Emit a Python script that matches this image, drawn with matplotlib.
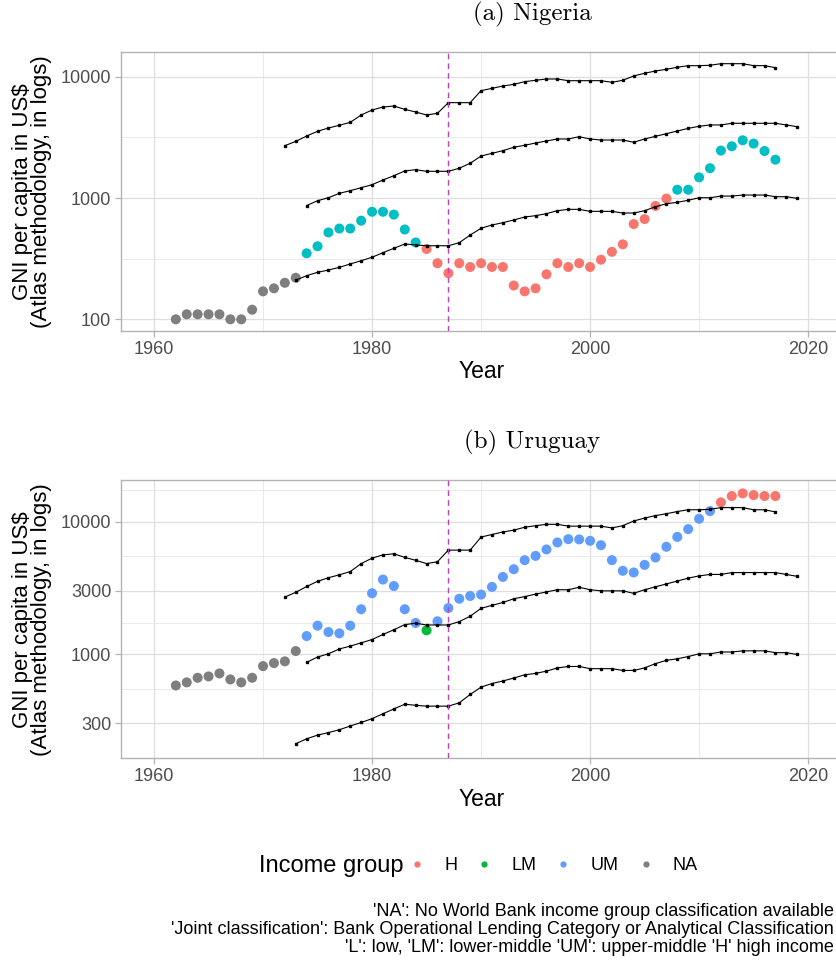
import numpy as np
import matplotlib
matplotlib.use('Agg')
import matplotlib.pyplot as plt
from matplotlib.lines import Line2D

plt.rcParams['font.family'] = ['Liberation Sans', 'DejaVu Sans']

# 数据
years = list(range(1962, 2018))

gni_ng = [100, 110, 110, 110, 110, 100, 100, 120, 170, 180, 200, 220,
          350, 400, 520, 560, 560, 650, 770, 770, 730, 550, 430,
          380, 290, 240, 290, 270, 290, 270, 270, 190, 170, 180, 235, 290, 270,
          290, 270, 310, 360, 415, 610, 670, 860, 990,
          1170, 1170, 1480, 1760, 2460, 2670, 2990, 2810, 2440, 2070]
group_ng = ['NA'] * 12 + ['LM'] * 11 + ['L'] * 23 + ['LM'] * 10

gni_uy = [579, 611, 662, 678, 714, 643, 611, 662, 811, 855, 881, 1054,
          1369, 1640, 1468, 1435, 1640, 2183, 2884, 3660, 3270, 2183, 1718,
          1513,
          1770, 2229, 2620, 2750, 2817, 3220, 3830, 4383, 5130, 5525, 6180, 6980,
          7395, 7360, 7180, 6655, 5130, 4260, 4140, 4725, 5370, 6475, 7690, 8800,
          10540, 12050,
          14030, 15660, 16400, 15920, 15660, 15660]
group_uy = ['NA'] * 12 + ['UM'] * 11 + ['LM'] + ['UM'] * 26 + ['H'] * 6

# 收入分组阈值线
thr_high_years = list(range(1972, 2018))
thr_high = [2699, 2930, 3243, 3548, 3777, 3975, 4206, 4830, 5312, 5623, 5730,
            5380, 5117, 4830, 4990, 6107, 6107, 6107, 7670, 8015, 8375, 8650,
            9100, 9340, 9570, 9570, 9270, 9270, 9270, 9270, 8990, 9340, 10140,
            10670, 11140, 11510, 11960, 12330, 12330, 12420, 12800, 12800,
            12800, 12330, 12330, 11870]
thr_um_years = list(range(1974, 2020))
thr_um = [866, 950, 1005, 1093, 1149, 1216, 1288, 1407, 1527, 1670, 1711,
          1660, 1660, 1660, 1760, 1933, 2218, 2335, 2455, 2620, 2720, 2840,
          2950, 3065, 3065, 3200, 3065, 3006, 3006, 3006, 2880, 3065, 3225,
          3390, 3566, 3750, 3900, 4000, 4000, 4130, 4130, 4130, 4130, 4130,
          4000, 3870]
thr_lm_years = list(range(1973, 2020))
thr_lm = [210, 229, 244, 255, 268, 286, 304, 325, 354, 385, 418, 410, 404,
          404, 404, 428, 495, 563, 599, 626, 659, 697, 715, 743, 786, 806,
          806, 776, 776, 776, 752, 752, 786, 847, 897, 921, 958, 1005, 1005,
          1037, 1037, 1058, 1058, 1058, 1025, 1025, 993]

colors_ng = {'L': '#F8766D', 'LM': '#00BFC4', 'NA': '#7F7F7F'}
colors_uy = {'H': '#F8766D', 'LM': '#00BA38', 'UM': '#619CFF', 'NA': '#7F7F7F'}

W, H = 836, 964
fig = plt.figure(figsize=(W / 100, H / 100), dpi=100)


def px_axes(left, top, right, bottom):
    return fig.add_axes([left / W, 1 - bottom / H, (right - left) / W, (bottom - top) / H])


def draw_panel(ax, gni, groups, cmap, ylim, yticks, yminor):
    ax.set_yscale('log')
    ax.scatter(years, gni, c=[cmap[g] for g in groups], s=52, linewidths=0, zorder=3)
    for xs, ys in [(thr_high_years, thr_high), (thr_um_years, thr_um), (thr_lm_years, thr_lm)]:
        ax.plot(xs, ys, color='black', lw=0.8, marker='s', ms=1.8, zorder=4)
    ax.axvline(1987, color='#C040C0', lw=1.0, ls=(0, (4, 3)), zorder=5)
    ax.set_xlim(1956.97, 2023.2)
    ax.set_ylim(*ylim)
    ax.set_xticks([1960, 1980, 2000, 2020])
    ax.set_xticks([1970, 1990, 2010], minor=True)
    ax.set_yticks(yticks)
    ax.set_yticklabels([str(t) for t in yticks])
    ax.set_yticks(yminor, minor=True)
    ax.yaxis.set_minor_formatter(plt.NullFormatter())
    ax.grid(True, which='major', color='#DEDEDE', lw=0.9)
    ax.grid(True, which='minor', color='#E6E6E6', lw=0.6)
    ax.set_axisbelow(True)
    for sp in ax.spines.values():
        sp.set_color('#B3B3B3')
        sp.set_linewidth(1.0)
    ax.tick_params(which='major', length=4, width=0.9, color='#B3B3B3',
                   labelsize=13, labelcolor='#4D4D4D', pad=3)
    ax.tick_params(which='minor', length=0)
    ax.set_xlabel('Year', fontsize=16.5, labelpad=2)


ax1 = px_axes(121, 51.7, 843, 331)
draw_panel(ax1, gni_ng, group_ng, colors_ng, (80.1, 16070),
           [100, 1000, 10000], [316.2, 3162])
ax2 = px_axes(121, 480, 843, 758.3)
draw_panel(ax2, gni_uy, group_uy, colors_uy, (163, 20700),
           [300, 1000, 3000, 10000], [547.7, 1732, 5477, 17320])

# 标题与纵轴说明
for y, title in [(14, '(a) Nigeria'), (442, '(b) Uruguay')]:
    fig.text(532 / W, 1 - y / H, title, family='cmr10', fontsize=18,
             ha='center', va='center')
for top, bottom in [(51.7, 331), (480, 758.3)]:
    fig.text(32 / W, 1 - (top + bottom) / 2 / H,
             'GNI per capita in US$\n(Atlas methodology, in logs)',
             rotation=90, ha='center', va='center', fontsize=16,
             linespacing=0.92, multialignment='center')

# 图例
fig.text(331 / W, 1 - 866 / H, 'Income group', fontsize=17, ha='center', va='center')
handles = [Line2D([], [], ls='none', marker='o', ms=4.5, mec='none', mfc=colors_uy[k])
           for k in ['H', 'LM', 'UM', 'NA']]
fig.legend(handles, ['H', 'LM', 'UM', 'NA'], ncol=4, loc='center',
           bbox_to_anchor=(553 / W, 1 - 866 / H), frameon=False, fontsize=13,
           handlelength=1.0, handletextpad=1.0, columnspacing=1.0)

caption = ["'NA': No World Bank income group classification available",
           "'Joint classification': Bank Operational Lending Category or Analytical Classification",
           "'L': low, 'LM': lower-middle 'UM': upper-middle 'H' high income"]
for i, line in enumerate(caption):
    fig.text(834 / W, 1 - (912 + 18 * i) / H, line, fontsize=13, ha='right', va='center')

fig.savefig('out.png', dpi=100)
